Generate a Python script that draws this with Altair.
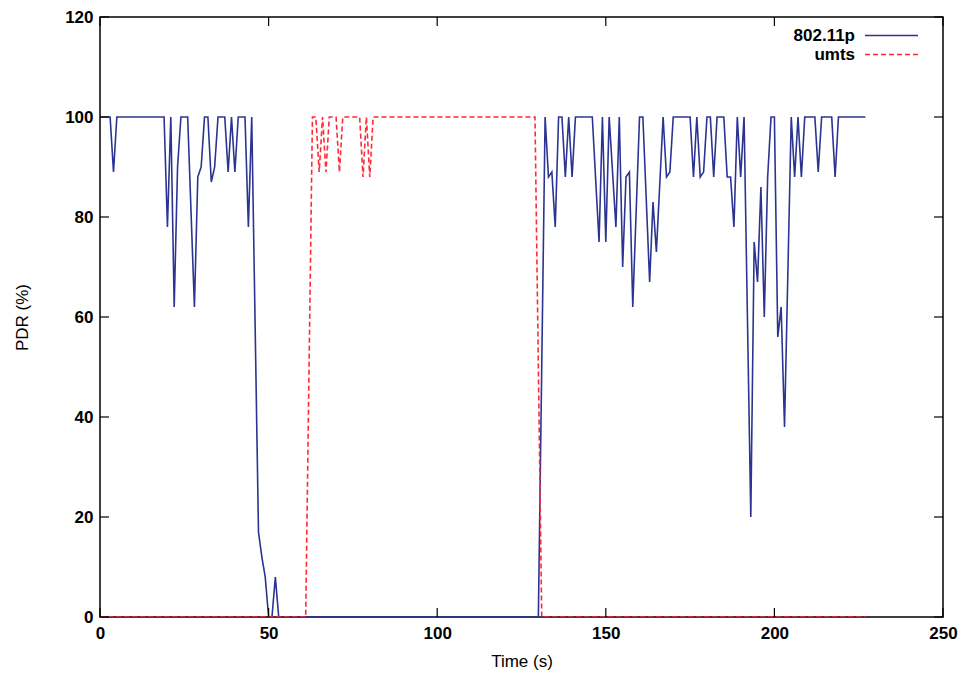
import altair as alt
import pandas as pd

# ---- data ----
x_ticks = [0, 50, 100, 150, 200, 250]
y_ticks = [0, 20, 40, 60, 80, 100, 120]
series_names = ["802.11p", "umts"]
series_colors = ["#2b3491", "#ff2a36"]

t_80211p = [0, 3, 4, 5, 19, 20, 21, 22, 23, 24, 26, 28, 29, 30, 31, 32, 33, 34, 35, 37,
            38, 39, 40, 41, 43, 44, 45, 47, 48, 49, 50, 51, 52, 53, 130, 132, 133, 134, 135, 136,
            137, 138, 139, 140, 141, 146, 148, 149, 150, 151, 153, 154, 155, 156, 157, 158, 160, 161, 163, 164,
            165, 167, 168, 169, 170, 175, 176, 177, 178, 179, 180, 181, 182, 183, 185, 186, 187, 188, 189, 190,
            191, 193, 194, 195, 196, 197, 198, 199, 200, 201, 202, 203, 205, 206, 207, 208, 209, 212, 213, 214,
            217, 218, 219, 227]
pdr_80211p = [100, 100, 89, 100, 100, 78, 100, 62, 90, 100, 100, 62, 88, 90, 100, 100, 87, 90, 100, 100,
              89, 100, 89, 100, 100, 78, 100, 17, 12, 8, 0, 0, 8, 0, 0, 100, 88, 89, 78, 100,
              100, 88, 100, 88, 100, 100, 75, 100, 75, 100, 78, 100, 70, 88, 89, 62, 100, 100, 67, 83,
              73, 100, 88, 89, 100, 100, 88, 100, 88, 89, 100, 100, 88, 100, 100, 88, 88, 78, 100, 88,
              100, 20, 75, 67, 86, 60, 88, 100, 100, 56, 62, 38, 100, 88, 100, 88, 100, 100, 89, 100,
              100, 88, 100, 100]

t_umts = [0, 61, 63, 64, 65, 66, 67, 68, 70, 71, 72, 77, 78, 79, 80, 81, 129, 131, 227]
pdr_umts = [0, 0, 100, 100, 89, 100, 89, 100, 100, 89, 100, 100, 88, 100, 88, 100, 100, 0, 0]

df = pd.concat([
    pd.DataFrame({"time": t_80211p, "pdr": pdr_80211p, "series": series_names[0]}),
    pd.DataFrame({"time": t_umts, "pdr": pdr_umts, "series": series_names[1]}),
], ignore_index=True)

W, H = 843, 600
TICK = 9
FONT = "Liberation Sans"

xs = alt.Scale(domain=[0, 250], nice=False, zero=False)
ys = alt.Scale(domain=[0, 120], nice=False, zero=False)

x_axis = alt.Axis(values=x_ticks, title="Time (s)", ticks=False, tickSize=0, domain=False, grid=False,
                  labelFont=FONT, labelFontSize=17, labelFontWeight="bold", labelColor="black",
                  labelPadding=8, titleFont=FONT, titleFontSize=17, titleFontWeight="normal",
                  titleColor="black", titlePadding=12, labelFlush=False)
y_axis = alt.Axis(values=y_ticks, title="PDR (%)", ticks=False, tickSize=0, domain=False, grid=False,
                  labelFont=FONT, labelFontSize=17, labelFontWeight="bold", labelColor="black",
                  labelPadding=7, titleFont=FONT, titleFontSize=17, titleFontWeight="normal",
                  titleColor="black", titlePadding=33, labelFlush=False)

lines = alt.Chart(df).mark_line(strokeWidth=1.6, clip=True).encode(
    x=alt.X("time:Q", scale=xs, axis=x_axis),
    y=alt.Y("pdr:Q", scale=ys, axis=y_axis),
    color=alt.Color("series:N", scale=alt.Scale(domain=series_names, range=series_colors), legend=None),
    strokeDash=alt.StrokeDash("series:N", scale=alt.Scale(domain=series_names, range=[[1, 0], [5, 3]]),
                              legend=None),
)

xt = pd.DataFrame({"time": x_ticks})
yt = pd.DataFrame({"pdr": y_ticks})
tick_style = dict(color="black", strokeWidth=1.2)

bottom_ticks = alt.Chart(xt).mark_rule(**tick_style).encode(
    x=alt.X("time:Q", scale=xs, axis=x_axis), y=alt.value(H - TICK), y2=alt.value(H))
top_ticks = alt.Chart(xt).mark_rule(**tick_style).encode(
    x=alt.X("time:Q", scale=xs, axis=x_axis), y=alt.value(0), y2=alt.value(TICK))
left_ticks = alt.Chart(yt).mark_rule(**tick_style).encode(
    y=alt.Y("pdr:Q", scale=ys, axis=y_axis), x=alt.value(0), x2=alt.value(TICK))
right_ticks = alt.Chart(yt).mark_rule(**tick_style).encode(
    y=alt.Y("pdr:Q", scale=ys, axis=y_axis), x=alt.value(W - TICK), x2=alt.value(W))

# legend (gnuplot style: label then line sample)
leg_df = pd.DataFrame({"series": series_names})
leg_rows = [18.5, 37.5]
legend_layers = []
for name, color, dash, ly in zip(series_names, series_colors, [[1, 0], [5, 3]], leg_rows):
    src = alt.Chart(leg_df).transform_filter(alt.datum.series == name)
    legend_layers.append(
        src.mark_text(align="right", baseline="middle", font=FONT, fontSize=17,
                      fontWeight="bold", color="black").encode(
            text="series:N", x=alt.value(755), y=alt.value(ly)))
    legend_layers.append(
        src.mark_rule(color=color, strokeWidth=1.6, strokeDash=dash).encode(
            x=alt.value(765), x2=alt.value(818), y=alt.value(ly)))

chart = alt.layer(lines, bottom_ticks, top_ticks, left_ticks, right_ticks, *legend_layers).properties(
    width=W, height=H,
    padding={"left": 92, "top": 9, "right": 15, "bottom": 60},
    autosize=alt.AutoSizeParams(type="none"),
    background="white",
).configure_view(stroke="black", strokeWidth=1.5)

chart.save("out.html", embed_options={"renderer": "svg", "actions": False})
